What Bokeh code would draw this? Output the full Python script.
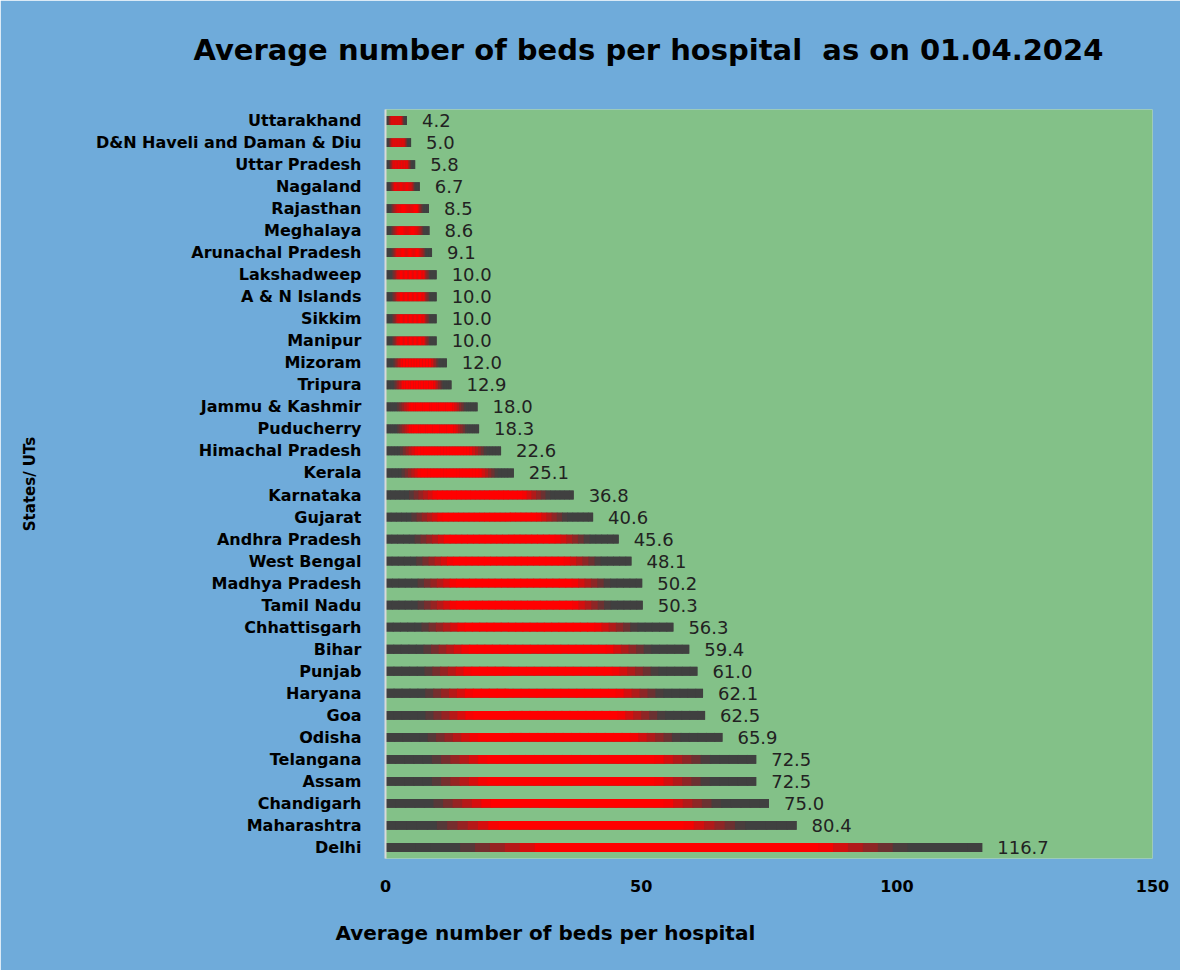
from bokeh.plotting import figure
from bokeh.models import ColumnDataSource, FactorRange, Range1d, FixedTicker, Title
from bokeh.core.properties import value
from bokeh.embed import file_html
from bokeh.resources import INLINE

states = ["Uttarakhand", "D&N Haveli and Daman & Diu", "Uttar Pradesh", "Nagaland", "Rajasthan",
          "Meghalaya", "Arunachal Pradesh", "Lakshadweep", "A & N Islands", "Sikkim", "Manipur",
          "Mizoram", "Tripura", "Jammu & Kashmir", "Puducherry", "Himachal Pradesh", "Kerala",
          "Karnataka", "Gujarat", "Andhra Pradesh", "West Bengal", "Madhya Pradesh", "Tamil Nadu",
          "Chhattisgarh", "Bihar", "Punjab", "Haryana", "Goa", "Odisha", "Telangana", "Assam",
          "Chandigarh", "Maharashtra", "Delhi"]
beds = [4.2, 5.0, 5.8, 6.7, 8.5, 8.6, 9.1, 10.0, 10.0, 10.0, 10.0, 12.0, 12.9, 18.0, 18.3, 22.6,
        25.1, 36.8, 40.6, 45.6, 48.1, 50.2, 50.3, 56.3, 59.4, 61.0, 62.1, 62.5, 65.9, 72.5, 72.5,
        75.0, 80.4, 116.7]
x_ticks = [0, 50, 100, 150]

BLUE = "#6fabda"
GREEN = "#83c188"
GRAY = (64, 64, 64)
RED = (255, 0, 0)
STOPS = [(0.0, GRAY), (0.12, GRAY), (0.27, RED), (0.73, RED), (0.87, GRAY), (1.0, GRAY)]


def grad_color(t):
    for (t0, c0), (t1, c1) in zip(STOPS[:-1], STOPS[1:]):
        if t0 <= t <= t1:
            f = 0 if t1 == t0 else (t - t0) / (t1 - t0)
            c = [round(a + (b - a) * f) for a, b in zip(c0, c1)]
            return "#%02x%02x%02x" % tuple(c)
    return "#404040"


p = figure(y_range=FactorRange(factors=states[::-1]), x_range=Range1d(0, 150),
           frame_width=767, frame_height=749,
           min_border_left=385, min_border_right=28, min_border_top=109, min_border_bottom=112,
           output_backend="svg", toolbar_location=None,
           background_fill_color=GREEN, border_fill_color=BLUE, outline_line_color=None)

p.title.text = "Average number of beds per hospital \u00a0as on 01.04.2024"
p.title.align = "left"
p.title.offset = -192
p.title.standoff = 0
p.title.text_font = "DejaVu Sans"
p.title.text_font_style = "bold"
p.title.text_font_size = "29px"
p.title.text_color = "#000000"

# spacer between title and frame
spacer = Title(text=" ", text_font_size="1px", standoff=40)
p.add_layout(spacer, "above")

# gradient bars
N = 40
ys, lefts, rights, cols = [], [], [], []
for s, v in zip(states, beds):
    for i in range(N):
        ys.append(s)
        lefts.append(v * i / N)
        rights.append(min(v, v * (i + 1) / N + v * 0.004))
        cols.append(grad_color((i + 0.5) / N))

p.hbar(y=states, left=0, right=beds, height=0.4, fill_color="#404040", line_color=None)
p.hbar(y=ys, left=lefts, right=rights, height=0.4, fill_color=cols, line_color=None)

src = ColumnDataSource(dict(y=states, x=beds, t=[f"{v:.1f}" for v in beds]))
p.text(x="x", y="y", text="t", source=src, x_offset=15, text_baseline="middle",
       text_align="left", text_font=value("DejaVu Sans"), text_font_size="18px",
       text_color="#222222")

p.xgrid.visible = False
p.ygrid.visible = False

xa = p.xaxis[0]
xa.ticker = FixedTicker(ticks=x_ticks)
xa.axis_line_color = None
xa.major_tick_line_color = None
xa.minor_tick_line_color = None
xa.major_label_text_font = "DejaVu Sans"
xa.major_label_text_font_style = "bold"
xa.major_label_text_font_size = "16px"
xa.major_label_text_color = "#000000"
xa.major_label_standoff = 15

ya = p.yaxis[0]
ya.axis_line_color = "#d9d9d9"
ya.axis_line_width = 2
ya.major_tick_line_color = None
ya.minor_tick_line_color = None
ya.major_label_text_font = "DejaVu Sans"
ya.major_label_text_font_style = "bold"
ya.major_label_text_font_size = "16px"
ya.major_label_text_color = "#000000"
ya.major_label_standoff = 18
ya.axis_label = "States/ UTs"
ya.axis_label_text_font = "DejaVu Sans"
ya.axis_label_text_font_style = "bold"
ya.axis_label_text_font_size = "15px"
ya.axis_label_text_color = "#000000"
ya.axis_label_standoff = 54

xt = Title(text="Average number of beds per hospital", align="left", offset=-50, standoff=49,
           text_font="DejaVu Sans", text_font_style="bold", text_font_size="20px",
           text_color="#000000")
p.add_layout(xt, "below")

open("out.html", "w").write(file_html(p, INLINE))
